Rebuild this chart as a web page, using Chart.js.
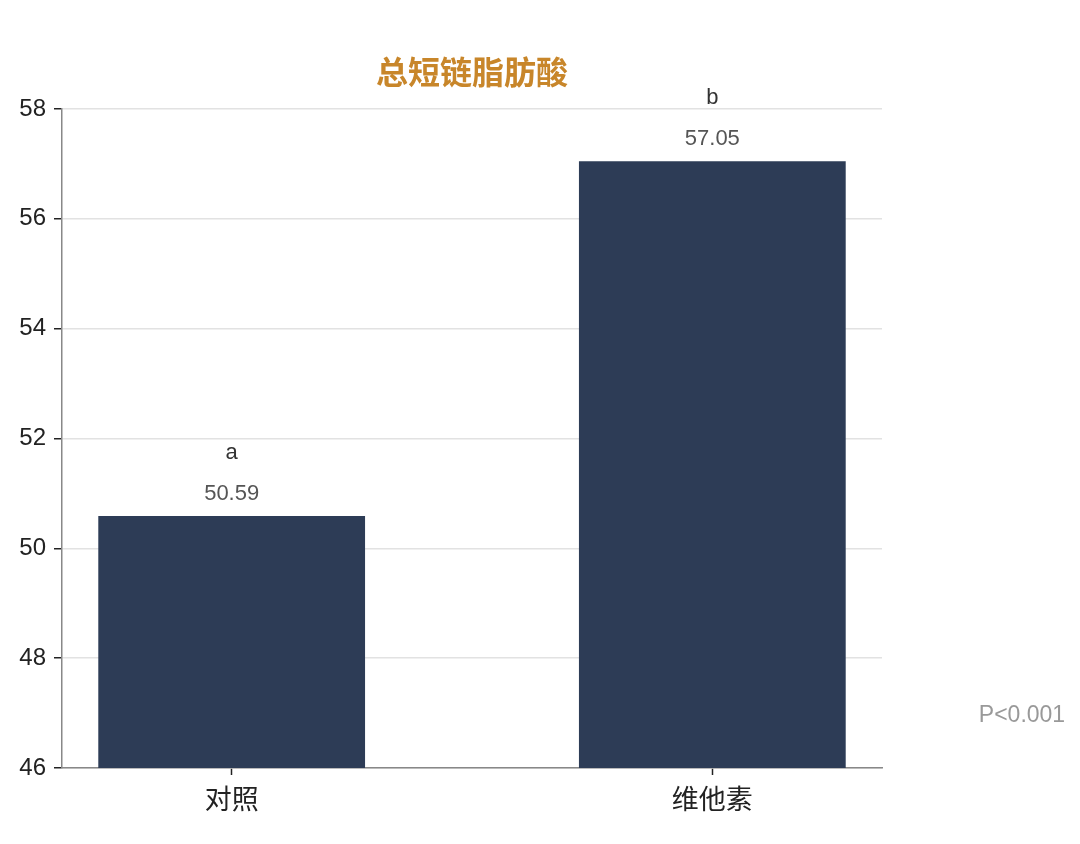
<!DOCTYPE html>
<html>
<head>
<meta charset="utf-8">
<script src="https://cdn.jsdelivr.net/npm/chart.js@4/dist/chart.umd.min.js"></script>
<style>
  html, body { margin: 0; padding: 0; background: #fff; }
  #wrap { width: 1080px; height: 844px; }
</style>
</head>
<body>
<div id="wrap"><canvas id="chart"></canvas></div>
<script>
const groups = ["对照", "维他素"];
const values = [50.59, 57.05];
const letters = ["a", "b"];
const yTicks = [46, 48, 50, 52, 54, 56, 58];
const titleText = "总短链脂肪酸";
const pText = "P<0.001";

const FONT = '"Liberation Sans", "Noto Sans CJK SC", sans-serif';

// title over the plot, value + letter above each bar, p value on the right
const extras = {
  id: "extras",
  afterDatasetsDraw(chart) {
    const ctx = chart.ctx;
    const meta = chart.getDatasetMeta(0);
    const y = chart.scales.y;
    const area = chart.chartArea;
    ctx.save();
    ctx.textAlign = "center";
    ctx.textBaseline = "middle";
    meta.data.forEach((bar, i) => {
      const top = y.getPixelForValue(values[i]);
      ctx.fillStyle = "#555";
      ctx.font = "22px " + FONT;
      ctx.fillText(values[i].toFixed(2), bar.x, top - 22);
      ctx.fillStyle = "#333";
      ctx.font = "22px " + FONT;
      ctx.fillText(letters[i], bar.x, top - 63);
    });
    ctx.fillStyle = "#c8862a";
    ctx.font = "bold 32px " + FONT;
    ctx.fillText(titleText, (area.left + area.right) / 2, area.top - 34);
    ctx.fillStyle = "#999";
    ctx.font = "23px " + FONT;
    ctx.fillText(pText, area.right + 140, y.getPixelForValue(46.95));
    ctx.restore();
  }
};

new Chart(document.getElementById("chart"), {
  type: "bar",
  data: {
    datasets: [{
      data: groups.map((g, i) => ({ x: i, y: values[i] })),
      backgroundColor: "#2d3c56",
      borderWidth: 0,
      barPercentage: 0.555,
      categoryPercentage: 1.0
    }]
  },
  options: {
    responsive: true,
    maintainAspectRatio: false,
    animation: false,
    layout: { padding: { left: 0, right: 198, top: 109, bottom: 0 } },
    plugins: {
      legend: { display: false },
      tooltip: { enabled: false },
      title: { display: false }
    },
    scales: {
      x: {
        type: "linear",
        offset: false,
        min: -0.353,
        max: 1.353,
        afterBuildTicks: (s) => { s.ticks = groups.map((g, i) => ({ value: i })); },
        grid: { display: true, offset: false, drawOnChartArea: false, tickColor: "#222", tickLength: 7, tickWidth: 1.5 },
        border: { color: "#888", width: 1.5 },
        ticks: { color: "#222", font: { family: FONT, size: 27 }, padding: 10, callback: (v) => groups[v] },
        afterFit: (s) => { s.height = 76; }
      },
      y: {
        min: 46,
        max: 58,
        afterBuildTicks: (s) => { s.ticks = yTicks.map(v => ({ value: v })); },
        grid: { color: "#e2e2e2", lineWidth: 1.5, tickColor: "#222", tickLength: 8, tickWidth: 1.5 },
        border: { color: "#888", width: 1.5 },
        ticks: { color: "#222", font: { family: FONT, size: 24 }, padding: 8 },
        afterFit: (s) => { s.width = 62; }
      }
    }
  },
  plugins: [extras]
});
</script>
</body>
</html>
